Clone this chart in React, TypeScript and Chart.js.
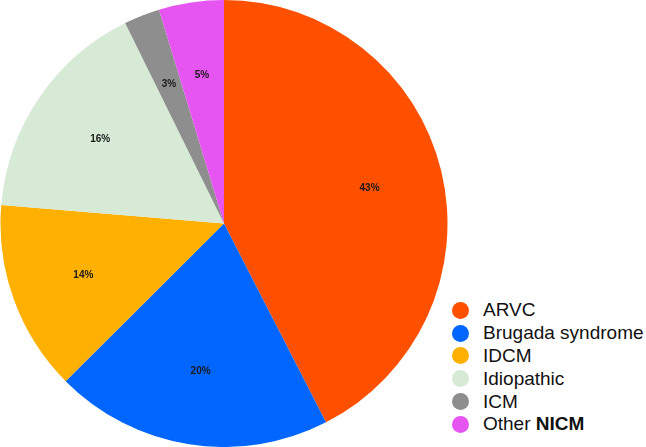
import React, { useEffect, useRef } from "react";
import { Chart, registerables } from "chart.js";

Chart.register(...registerables);

const categories = ["ARVC", "Brugada syndrome", "IDCM", "Idiopathic", "ICM", "Other NICM"];
const values = [42.5, 20.1, 13.8, 16.4, 2.6, 4.7];
const percentLabels = ["43%", "20%", "14%", "16%", "3%", "5%"];
const colors = ["#FF5000", "#0066FF", "#FFB000", "#D6EAD6", "#8E8E8E", "#E655F2"];

const labelPlugin = {
  id: "sliceLabels",
  afterDatasetsDraw(chart: any) {
    const { ctx } = chart;
    const meta = chart.getDatasetMeta(0);
    ctx.save();
    ctx.font = "bold 10px 'Liberation Sans', Arial, sans-serif";
    ctx.fillStyle = "#1a1a1a";
    ctx.textAlign = "center";
    ctx.textBaseline = "middle";
    meta.data.forEach((arc: any, i: number) => {
      const { x, y, startAngle, endAngle, outerRadius } = arc.getProps(
        ["x", "y", "startAngle", "endAngle", "outerRadius"],
        true
      );
      const mid = (startAngle + endAngle) / 2;
      const r = outerRadius * 0.67;
      ctx.fillText(percentLabels[i], x + Math.cos(mid) * r, y + Math.sin(mid) * r);
    });
    ctx.restore();
  },
};

export default function App() {
  const canvasRef = useRef<HTMLCanvasElement>(null);

  useEffect(() => {
    document.body.style.margin = "0";
    const chart = new Chart(canvasRef.current!, {
      type: "pie",
      data: {
        labels: categories,
        datasets: [
          {
            data: values,
            backgroundColor: colors,
            borderWidth: 0,
          },
        ],
      },
      options: {
        responsive: false,
        animation: false,
        layout: { padding: 0 },
        plugins: {
          legend: { display: false },
          tooltip: { enabled: false },
        },
      },
      plugins: [labelPlugin],
    });
    return () => chart.destroy();
  }, []);

  return (
    <div
      style={{
        position: "absolute",
        left: 0,
        top: 0,
        width: 646,
        height: 447,
        background: "#fff",
        overflow: "hidden",
        fontFamily: "'Liberation Sans', Arial, sans-serif",
      }}
    >
      <canvas
        ref={canvasRef}
        width={448}
        height={447}
        style={{ position: "absolute", left: 0, top: 0, width: 448, height: 447 }}
      />
      <div style={{ position: "absolute", left: 452, top: 299 }}>
        {categories.map((c, i) => {
          const isOther = c.startsWith("Other ");
          return (
            <div
              key={c}
              style={{
                display: "flex",
                alignItems: "center",
                height: 22.8,
                fontSize: 19,
                color: "#111",
                whiteSpace: "nowrap",
              }}
            >
              <span
                style={{
                  display: "inline-block",
                  width: 17,
                  height: 17,
                  borderRadius: "50%",
                  background: colors[i],
                  marginRight: 14,
                  flex: "none",
                }}
              />
              {isOther ? (
                <span>
                  Other <b>NICM</b>
                </span>
              ) : (
                <span>{c}</span>
              )}
            </div>
          );
        })}
      </div>
    </div>
  );
}
